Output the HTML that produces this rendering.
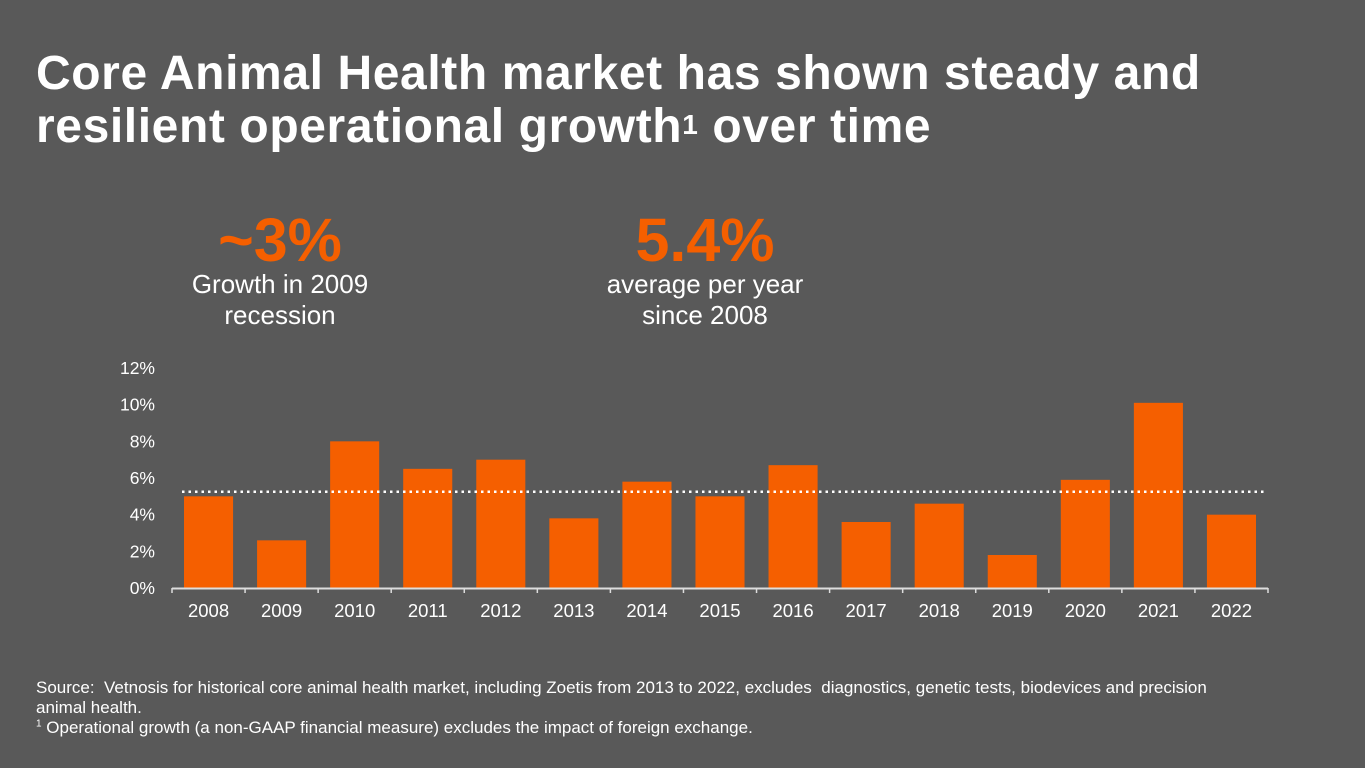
<!DOCTYPE html>
<html><head><meta charset="utf-8"><style>
body{margin:0;width:1365px;height:768px;background:#595959;overflow:hidden;font-family:"Liberation Sans",Arial,sans-serif;color:#fff;position:relative}
.t{position:absolute;left:36px;top:47px;font-size:48px;font-weight:bold;line-height:53px;margin:0;letter-spacing:0.6px;white-space:nowrap}
.t sup{font-size:28px;vertical-align:top;position:relative;top:-2px}
.kpi{position:absolute;text-align:center;width:300px}
.kpi .big{color:#f55f00;font-size:61px;font-weight:bold;line-height:56px}
.kpi .sub{font-size:26px;line-height:31px;margin-top:1px}
.src{position:absolute;left:36px;top:678px;font-size:17px;line-height:20px;width:1195px}
</style></head><body>
<h1 class="t">Core Animal Health market has shown steady and<br>resilient operational growth<sup>1</sup> over time</h1>
<div class="kpi" style="left:130px;top:212px"><div class="big">~3%</div><div class="sub">Growth in 2009<br>recession</div></div>
<div class="kpi" style="left:555px;top:212px"><div class="big">5.4%</div><div class="sub">average per year<br>since 2008</div></div>
<svg id="chart" width="1365" height="768" style="position:absolute;left:0;top:0"></svg>
<div class="src">Source:&nbsp; Vetnosis for historical core animal health market, including Zoetis from 2013 to 2022, excludes&nbsp; diagnostics, genetic tests, biodevices and precision animal health.<br><sup style="font-size:10px;line-height:0">1</sup> Operational growth (a non-GAAP financial measure) excludes the impact of foreign exchange.</div>
<script>
const categories=["2008","2009","2010","2011","2012","2013","2014","2015","2016","2017","2018","2019","2020","2021","2022"];
const growthValues=[5.0,2.6,8.0,6.5,7.0,3.8,5.8,5.0,6.7,3.6,4.6,1.8,5.9,10.1,4.0];
const yTicks=[0,2,4,6,8,10,12];
const averageValue=5.25;
const svg=document.getElementById('chart');
const NS='http://www.w3.org/2000/svg';
const x0=172,x1=1268,y0=588,yTop=368,yMax=12;
const band=(x1-x0)/categories.length;
const y=v=>y0-(v/yMax)*(y0-yTop);
const x=i=>x0+band*i;
function mk(t,a){const e=document.createElementNS(NS,t);for(const k in a)e.setAttribute(k,a[k]);svg.appendChild(e);return e;}
yTicks.forEach(v=>{const t=mk('text',{x:155,y:y(v)+6,'text-anchor':'end','font-size':17.5,fill:'#fff','font-family':'Liberation Sans'});t.textContent=v+'%';

});
growthValues.forEach((v,i)=>{const r=mk('rect',{x:x(i)+12,y:y(v),width:band-24,height:y0-y(v),fill:'#f55f00'});


const t=mk('text',{x:x(i)+band/2,y:617,'text-anchor':'middle','font-size':18.5,fill:'#fff','font-family':'Liberation Sans'});t.textContent=categories[i];

});
const ax=mk('line',{x1:x0,x2:x1,y1:y0+0.5,y2:y0+0.5,stroke:'#ddd','stroke-width':2});


for(let i=0;i<=categories.length;i++){mk('line',{x1:x(i),x2:x(i),y1:y0,y2:y0+5,stroke:'#ddd','stroke-width':1.5});}
const av=mk('line',{x1:182,x2:1266,y1:y(averageValue),y2:y(averageValue),stroke:'#fff','stroke-width':2.5,'stroke-dasharray':'2.5 4'});


</script>
</body></html>
